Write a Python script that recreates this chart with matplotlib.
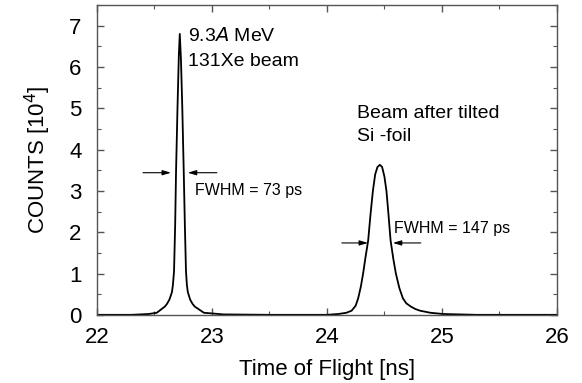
import matplotlib
matplotlib.use("Agg")
import matplotlib.pyplot as plt
from matplotlib.ticker import MultipleLocator

# peak 1: direct 131Xe beam
tof1 = [22.0, 22.3, 22.45, 22.52, 22.59, 22.61, 22.63, 22.652, 22.66, 22.67,
        22.68, 22.687, 22.70, 22.712, 22.72, 22.73, 22.742, 22.755, 22.764,
        22.774, 22.782, 22.79, 22.81, 22.83, 22.85, 22.93, 23.1, 23.5]
counts1 = [0, 0, 0.02, 0.05, 0.2, 0.27, 0.37, 0.55, 0.72, 1.05,
           2.2, 3.4, 5.0, 6.3, 6.8, 6.2, 5.0, 3.4, 2.2,
           1.05, 0.72, 0.55, 0.37, 0.27, 0.2, 0.05, 0.01, 0]

# peak 2: beam after tilted Si foil
tof2 = [23.5, 24.0, 24.1, 24.17, 24.215, 24.25, 24.272, 24.295, 24.315, 24.335,
        24.359, 24.38, 24.40, 24.42, 24.44, 24.461, 24.48, 24.50, 24.518,
        24.535, 24.554, 24.578, 24.60, 24.63, 24.661, 24.69, 24.73, 24.77,
        24.81, 24.9, 25.01, 25.3, 26.0]
counts2 = [0, 0, 0.02, 0.05, 0.1, 0.22, 0.4, 0.68, 1.0, 1.38,
           1.8, 2.45, 3.0, 3.4, 3.58, 3.63, 3.58, 3.35, 3.0,
           2.45, 1.8, 1.35, 1.0, 0.65, 0.4, 0.28, 0.2, 0.14,
           0.1, 0.05, 0.02, 0, 0]

fwhm_labels = ["FWHM = 73 ps", "FWHM = 147 ps"]

plt.rcParams['font.family'] = ['Liberation Sans', 'DejaVu Sans']

fig = plt.figure(figsize=(5.82, 3.83), dpi=100)
ax = fig.add_axes([0.1667, 0.178, 0.790, 0.809])

ax.plot(tof1 + tof2, counts1 + counts2, color='black', lw=1.3)

ax.set_xlim(22, 26)
ax.set_ylim(0, 7.5)
ax.xaxis.set_major_locator(MultipleLocator(1))
ax.xaxis.set_minor_locator(MultipleLocator(0.5))
ax.yaxis.set_major_locator(MultipleLocator(1))
ax.yaxis.set_minor_locator(MultipleLocator(0.5))
ax.tick_params(which='both', direction='in', top=True, right=True,
               color='#555555', labelsize=16)
ax.tick_params(which='major', length=5, width=1)
ax.tick_params(which='minor', length=3, width=0.8)
ax.tick_params(axis='x', which='major', pad=9)
ax.tick_params(axis='y', which='major', pad=11)
for s in ax.spines.values():
    s.set_color('#555555')
    s.set_linewidth(1.0)

ax.set_xlabel('Time of Flight [ns]', fontsize=16, labelpad=8)
ax.set_ylabel('COUNTS [10$^4$]', fontsize=16, labelpad=12)

arrow = dict(arrowstyle='-|>,head_length=0.5,head_width=0.15', color='black',
             lw=0.8, shrinkA=0, shrinkB=0)
# FWHM arrows, peak 1
ax.annotate('', xy=(22.643, 3.44), xytext=(22.40, 3.44), arrowprops=arrow)
ax.annotate('', xy=(22.79, 3.44), xytext=(23.043, 3.44), arrowprops=arrow)
ax.text(22.852, 3.0, fwhm_labels[0], fontsize=11.5, va='center')
# FWHM arrows, peak 2
ax.annotate('', xy=(24.357, 1.74), xytext=(24.13, 1.74), arrowprops=arrow)
ax.annotate('', xy=(24.574, 1.74), xytext=(24.817, 1.74), arrowprops=arrow)
ax.text(24.583, 2.1, fwhm_labels[1], fontsize=11.5, va='center')

ax.text(22.79, 6.76, '9.3$\\it{A}$ MeV', fontsize=14, va='center')
ax.text(22.79, 6.13, '131Xe beam', fontsize=14, va='center')
ax.text(24.26, 4.87, 'Beam after tilted', fontsize=14, va='center')
ax.text(24.26, 4.31, 'Si -foil', fontsize=14, va='center')

fig.savefig('out.png', dpi=100)
